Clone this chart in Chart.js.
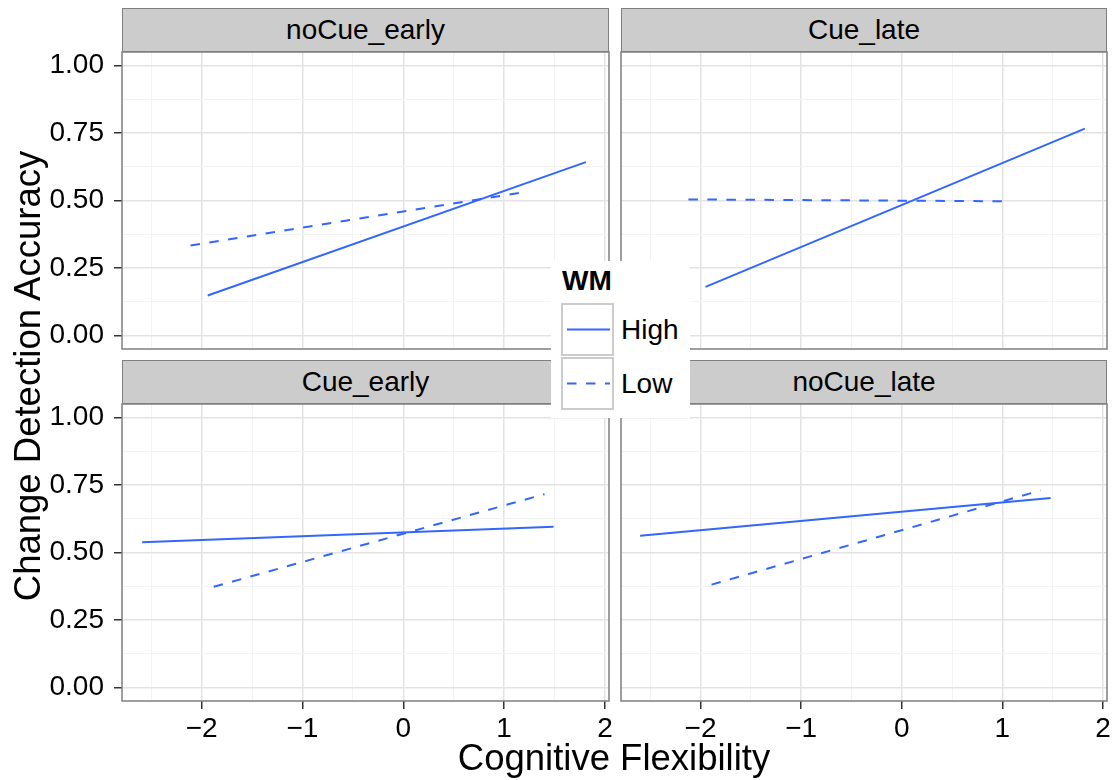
<!DOCTYPE html>
<html>
<head>
<meta charset="utf-8">
<title>Change Detection Accuracy by Cognitive Flexibility</title>
<script src="https://cdn.jsdelivr.net/npm/chart.js@4.4.1/dist/chart.umd.min.js"></script>
<style>
  html, body { margin: 0; padding: 0; background: #fff; }
  #figure {
    position: relative; width: 1116px; height: 780px; overflow: hidden;
    font-family: "Liberation Sans", Arial, Helvetica, sans-serif; color: #000;
  }
  #figure canvas { position: absolute; left: 0; top: 0; }
  .strip {
    position: absolute; box-sizing: border-box; height: 44px;
    background: #cccccc; border: 1.5px solid #7f7f7f;
    font-size: 28px; line-height: 41px; text-align: center;
  }
  .axis-title { position: absolute; font-size: 36.5px; line-height: 36px; text-align: center; white-space: nowrap; }
  #legend { position: absolute; left: 551px; top: 261px; width: 139px; height: 157px; background: #fff; z-index: 5; }
  #legend .title { position: absolute; left: 11px; top: 6px; font-size: 28px; font-weight: bold; line-height: 28px; }
  #legend .key { position: absolute; left: 10px; width: 53px; height: 53px; box-sizing: border-box; border: 2px solid #cccccc; background: #fff; }
  #legend .key svg { position: absolute; left: 0; top: 0; }
  #legend .label { position: absolute; left: 70px; font-size: 28px; line-height: 53px; }
</style>
</head>
<body>
<div id="figure"></div>
<script>
// facets (row by row) and the WM groups
const panels = ['noCue_early', 'Cue_late', 'Cue_early', 'noCue_late'];
const wmLevels = ['High', 'Low'];

// fitted line end points per facet: [start, end]
const highX = [[-1.94, 1.81], [-1.95, 1.82], [-2.59, 1.49], [-2.60, 1.48]];
const highY = [[0.148, 0.642], [0.180, 0.766], [0.538, 0.595], [0.562, 0.702]];
const lowX  = [[-2.11, 1.18], [-2.12, 1.08], [-1.88, 1.40], [-1.89, 1.38]];
const lowY  = [[0.333, 0.530], [0.504, 0.497], [0.373, 0.716], [0.381, 0.730]];

// axis breaks
const xTicks = [-2, -1, 0, 1, 2];
const xMinor = [-2.5, -1.5, -0.5, 0.5, 1.5];
const yTicks = [0, 0.25, 0.5, 0.75, 1];
const yMinor = [0.125, 0.375, 0.625, 0.875];
const xRange = [-2.79, 2.04];
const yRange = [-0.05, 1.05];

const W = 1116, H = 780;
const FONT = '"Liberation Sans", Arial, Helvetica, sans-serif';
const LINE = '#3366FF';
const DASH = [9.5, 9.5];
const X_AXIS_H = 50;

// where each facet sits on the page
const boxes = [
  { left: 122, right: 609,  top: 52,  bottom: 349, yLabels: true,  xLabels: false },
  { left: 621, right: 1107, top: 52,  bottom: 349, yLabels: false, xLabels: false },
  { left: 122, right: 609,  top: 404, bottom: 701, yLabels: true,  xLabels: true },
  { left: 621, right: 1107, top: 404, bottom: 701, yLabels: false, xLabels: true }
];

const fig = document.getElementById('figure');

// panel outline drawn over the lines, like theme_bw
const panelBorder = {
  id: 'panelBorder',
  afterDraw(chart) {
    const a = chart.chartArea, ctx = chart.ctx;
    ctx.save();
    ctx.strokeStyle = '#7f7f7f';
    ctx.lineWidth = 1.5;
    ctx.strokeRect(a.left, a.top, a.right - a.left, a.bottom - a.top);
    ctx.restore();
  }
};

const isMajorX = v => xTicks.includes(v);
const isMajorY = v => yTicks.includes(v);
const fmtX = v => (v < 0 ? '\u2212' + Math.abs(v) : String(v));

function toPoints(xs, ys) {
  return xs.map((x, k) => ({ x: x, y: ys[k] }));
}

function noPadding(scale) {
  scale.paddingLeft = 0; scale.paddingRight = 0;
  scale.paddingTop = 0; scale.paddingBottom = 0;
}

panels.forEach((name, i) => {
  const box = boxes[i];
  const yw = box.yLabels ? box.left : 0;
  const xh = box.xLabels ? X_AXIS_H : 0;

  const canvas = document.createElement('canvas');
  canvas.width = W;
  canvas.height = H;
  fig.appendChild(canvas);

  new Chart(canvas, {
    type: 'line',
    data: {
      datasets: [
        {
          label: wmLevels[0],
          data: toPoints(highX[i], highY[i]),
          borderColor: LINE, borderWidth: 2, pointRadius: 0, fill: false
        },
        {
          label: wmLevels[1],
          data: toPoints(lowX[i], lowY[i]),
          borderColor: LINE, borderWidth: 2, borderDash: DASH, pointRadius: 0, fill: false
        }
      ]
    },
    options: {
      responsive: false,
      animation: false,
      devicePixelRatio: 1,
      events: [],
      layout: {
        padding: {
          left: box.left - yw,
          right: W - box.right,
          top: box.top,
          bottom: H - box.bottom - xh
        }
      },
      plugins: { legend: { display: false }, tooltip: { enabled: false } },
      scales: {
        x: {
          type: 'linear',
          min: xRange[0], max: xRange[1],
          afterBuildTicks: s => { s.ticks = xMinor.concat(xTicks).sort((a, b) => a - b).map(v => ({ value: v })); },
          afterFit: s => { s.height = xh; noPadding(s); },
          border: { display: false },
          grid: {
            color: c => (c.tick && isMajorX(c.tick.value) ? '#e3e3e3' : '#f3f3f3'),
            lineWidth: c => (c.tick && isMajorX(c.tick.value) ? 1.5 : 1),
            drawTicks: box.xLabels,
            tickLength: 8,
            tickWidth: 1.5,
            tickColor: c => (c.tick && isMajorX(c.tick.value) ? '#333333' : 'rgba(0,0,0,0)')
          },
          ticks: {
            display: box.xLabels,
            autoSkip: false, maxRotation: 0, minRotation: 0,
            padding: 3,
            color: '#000',
            font: { family: FONT, size: 28 },
            callback: v => (isMajorX(v) ? fmtX(v) : '')
          }
        },
        y: {
          type: 'linear',
          min: yRange[0], max: yRange[1],
          afterBuildTicks: s => { s.ticks = yMinor.concat(yTicks).sort((a, b) => a - b).map(v => ({ value: v })); },
          afterFit: s => { s.width = yw; noPadding(s); },
          border: { display: false },
          grid: {
            color: c => (c.tick && isMajorY(c.tick.value) ? '#e3e3e3' : '#f3f3f3'),
            lineWidth: c => (c.tick && isMajorY(c.tick.value) ? 1.5 : 1),
            drawTicks: box.yLabels,
            tickLength: 8,
            tickWidth: 1.5,
            tickColor: c => (c.tick && isMajorY(c.tick.value) ? '#333333' : 'rgba(0,0,0,0)')
          },
          ticks: {
            display: box.yLabels,
            autoSkip: false,
            padding: 10,
            color: '#000',
            font: { family: FONT, size: 28 },
            callback: v => (isMajorY(v) ? v.toFixed(2) : '')
          }
        }
      }
    },
    plugins: [panelBorder]
  });

  // facet strip
  const strip = document.createElement('div');
  strip.className = 'strip';
  strip.style.left = box.left + 'px';
  strip.style.top = (box.top - 44) + 'px';
  strip.style.width = (box.right - box.left) + 'px';
  strip.textContent = name;
  fig.appendChild(strip);
});

// axis titles
const xTitle = document.createElement('div');
xTitle.className = 'axis-title';
xTitle.style.left = '314px';
xTitle.style.width = '600px';
xTitle.style.top = '740px';
xTitle.textContent = 'Cognitive Flexibility';
fig.appendChild(xTitle);

const yTitle = document.createElement('div');
yTitle.className = 'axis-title';
yTitle.style.width = '700px';
yTitle.style.left = (28 - 350) + 'px';
yTitle.style.top = (376 - 18) + 'px';
yTitle.style.transform = 'rotate(-90deg)';
yTitle.textContent = 'Change Detection Accuracy';
fig.appendChild(yTitle);

// WM legend
const legend = document.createElement('div');
legend.id = 'legend';
const lt = document.createElement('div');
lt.className = 'title';
lt.textContent = 'WM';
legend.appendChild(lt);
wmLevels.forEach((lvl, k) => {
  const top = 42 + k * 54;
  const key = document.createElement('div');
  key.className = 'key';
  key.style.top = top + 'px';
  const dash = k === 1 ? ' stroke-dasharray="' + DASH.join(' ') + '"' : '';
  key.innerHTML = '<svg width="49" height="49"><line x1="4" y1="24.5" x2="47" y2="24.5" stroke="' + LINE +
    '" stroke-width="2"' + dash + '/></svg>';
  legend.appendChild(key);
  const lab = document.createElement('div');
  lab.className = 'label';
  lab.style.top = top + 'px';
  lab.textContent = lvl;
  legend.appendChild(lab);
});
fig.appendChild(legend);
</script>
</body>
</html>
